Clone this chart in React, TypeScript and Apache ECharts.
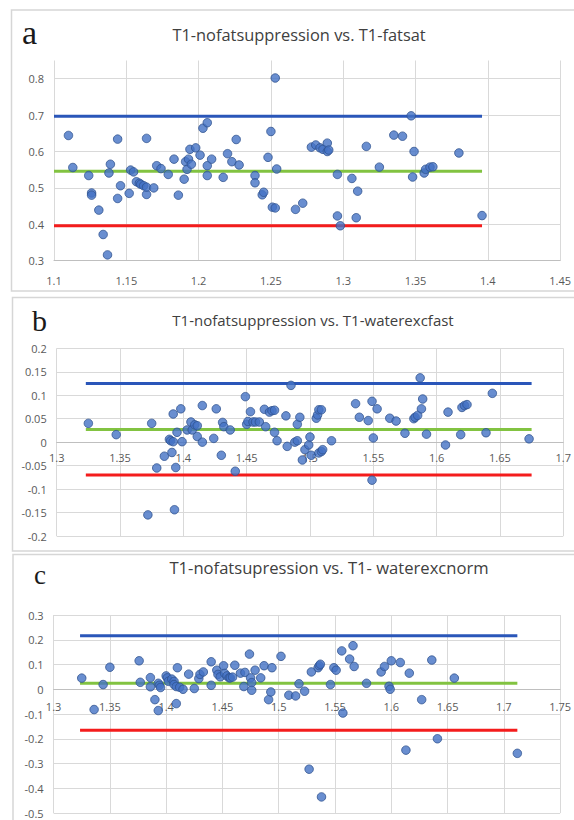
import React, { useEffect, useRef } from "react";
import * as echarts from "echarts";

// ---------- Panel a: T1-nofatsuppression vs. T1-fatsat ----------
const aX = [1.110,1.113,1.124,1.126,1.126,1.131,1.134,1.137,1.138,1.139,1.144,1.144,1.146,1.152,1.153,1.155,1.157,1.159,1.160,1.162,1.164,1.164,1.164,1.169,1.171,1.174,1.179,1.183,1.186,1.190,1.191,1.193,1.192,1.195,1.194,1.198,1.201,1.203,1.206,1.206,1.206,1.209,1.217,1.220,1.223,1.226,1.228,1.239,1.239,1.244,1.245,1.248,1.250,1.251,1.253,1.253,1.254,1.267,1.272,1.278,1.281,1.284,1.286,1.289,1.289,1.290,1.296,1.296,1.298,1.306,1.310,1.309,1.316,1.325,1.335,1.341,1.347,1.349,1.348,1.356,1.357,1.360,1.362,1.380,1.396];
const aY = [0.644,0.556,0.534,0.486,0.480,0.439,0.372,0.316,0.541,0.565,0.471,0.634,0.506,0.485,0.549,0.544,0.517,0.513,0.510,0.506,0.482,0.502,0.636,0.500,0.561,0.553,0.537,0.579,0.480,0.524,0.572,0.579,0.551,0.565,0.606,0.610,0.590,0.664,0.679,0.561,0.534,0.579,0.529,0.594,0.572,0.633,0.563,0.534,0.514,0.481,0.488,0.584,0.655,0.447,0.445,0.802,0.552,0.441,0.458,0.612,0.618,0.610,0.606,0.623,0.600,0.604,0.537,0.423,0.396,0.526,0.491,0.418,0.614,0.557,0.645,0.642,0.698,0.600,0.530,0.541,0.551,0.557,0.558,0.596,0.424];
const aLimits = [0.697, 0.546, 0.396]; // upper, mean, lower
const aRange = [1.1, 1.396];

// ---------- Panel b: T1-nofatsuppression vs. T1-waterexcfast ----------
const bX = [1.325,1.347,1.372,1.375,1.379,1.385,1.389,1.390,1.392,1.391,1.392,1.393,1.394,1.395,1.398,1.399,1.403,1.406,1.407,1.409,1.411,1.411,1.415,1.415,1.424,1.426,1.430,1.431,1.432,1.437,1.441,1.449,1.450,1.451,1.453,1.455,1.457,1.460,1.464,1.465,1.468,1.470,1.472,1.472,1.474,1.481,1.482,1.485,1.488,1.490,1.490,1.492,1.494,1.496,1.499,1.500,1.501,1.505,1.506,1.507,1.509,1.507,1.509,1.510,1.517,1.536,1.539,1.546,1.549,1.549,1.550,1.553,1.563,1.568,1.575,1.582,1.583,1.585,1.587,1.588,1.589,1.592,1.607,1.609,1.619,1.620,1.622,1.624,1.639,1.644,1.673];
const bY = [0.040,0.016,-0.155,0.040,-0.055,-0.030,0.006,0.003,0.001,-0.022,0.060,-0.144,-0.054,0.021,0.071,0.001,0.026,0.043,0.026,0.037,0.035,0.012,0.078,0.000,0.008,0.071,-0.028,0.042,0.033,0.026,-0.062,0.097,0.038,0.044,0.065,0.043,0.043,0.043,0.070,0.033,0.064,0.067,0.068,0.021,0.003,0.056,-0.009,0.121,0.000,0.003,0.038,0.053,-0.038,-0.016,-0.006,0.011,-0.028,0.051,0.058,0.069,0.069,-0.023,-0.020,-0.016,0.003,0.082,0.053,0.046,-0.081,0.087,0.009,0.071,0.051,0.045,0.019,0.050,0.053,0.057,0.137,0.071,0.092,0.017,-0.006,0.064,0.016,0.074,0.078,0.080,0.020,0.104,0.007];
const bLimits = [0.125, 0.027, -0.070];
const bRange = [1.323, 1.675];

// ---------- Panel c: T1-nofatsupression vs. T1- waterexcnorm ----------
const cX = [1.325,1.336,1.344,1.350,1.376,1.377,1.386,1.386,1.390,1.393,1.393,1.394,1.395,1.400,1.401,1.402,1.405,1.407,1.407,1.409,1.410,1.409,1.412,1.415,1.420,1.425,1.429,1.430,1.433,1.440,1.440,1.445,1.446,1.448,1.451,1.452,1.454,1.456,1.457,1.459,1.461,1.466,1.469,1.470,1.474,1.475,1.476,1.476,1.479,1.484,1.487,1.491,1.493,1.494,1.502,1.509,1.515,1.518,1.523,1.527,1.529,1.535,1.536,1.537,1.538,1.546,1.549,1.551,1.556,1.557,1.563,1.566,1.567,1.578,1.591,1.594,1.598,1.599,1.600,1.608,1.613,1.616,1.627,1.636,1.641,1.656,1.712];
const cY = [0.045,-0.082,0.019,0.089,0.115,0.028,0.047,0.010,-0.042,-0.086,0.024,0.016,0.007,0.054,0.046,0.032,0.041,0.032,0.019,-0.058,0.087,0.011,0.008,0.000,0.061,0.003,0.043,0.060,0.070,0.016,0.111,0.077,0.060,0.050,0.095,0.064,0.054,0.046,0.046,0.049,0.097,0.065,0.011,0.068,0.142,0.046,0.027,-0.004,0.077,0.046,0.095,-0.042,-0.011,0.087,0.133,-0.024,-0.027,0.022,-0.008,-0.323,0.070,0.087,0.095,0.101,-0.435,0.019,0.087,0.077,0.155,-0.096,0.122,0.176,0.092,0.024,0.070,0.092,0.012,0.000,0.115,0.108,-0.246,0.065,-0.042,0.118,-0.200,0.045,-0.259];
const cLimits = [0.216, 0.024, -0.166];
const cRange = [1.3235, 1.712];

const titles = [
  "T1-nofatsuppression vs. T1-fatsat",
  "T1-nofatsuppression vs. T1-waterexcfast",
  "T1-nofatsupression vs. T1- waterexcnorm",
];
const panelLetters = ["a", "b", "c"];

const LINE_COLORS = ["#2a56b9", "#82c341", "#f41c1c"];
const GRID_COLOR = "#d9d9d9";
const AXIS_COLOR = "#bfbfbf";
const LABEL_COLOR = "#595959";
const FONT = "'Open Sans', 'Noto Sans', sans-serif";

const fmt = (v: number) => String(Math.round(v * 100) / 100);

function pairs(xs: number[], ys: number[]) {
  return xs.map((x, i) => [x, ys[i]]);
}

export default function App() {
  const ref = useRef<HTMLDivElement>(null);

  useEffect(() => {
    if (!ref.current) return;
    const chart = echarts.init(ref.current, undefined, { renderer: "svg" });

    const grids = [
      { left: 54, top: 60.5, width: 507.7, height: 200.2 },
      { left: 56.7, top: 348.3, width: 509.3, height: 187.7 },
      { left: 53.6, top: 615, width: 507.4, height: 198 },
    ];
    const xDefs = [
      { min: 1.1, max: 1.45, interval: 0.05 },
      { min: 1.3, max: 1.7, interval: 0.05 },
      { min: 1.3, max: 1.75, interval: 0.05 },
    ];
    const yDefs = [
      { min: 0.3, max: 0.85, interval: 0.1 },
      { min: -0.2, max: 0.2, interval: 0.05 },
      { min: -0.5, max: 0.3, interval: 0.1 },
    ];
    const xLabelMargins = [14, 10, 12];
    const datasets = [
      { pts: pairs(aX, aY), lim: aLimits, rng: aRange },
      { pts: pairs(bX, bY), lim: bLimits, rng: bRange },
      { pts: pairs(cX, cY), lim: cLimits, rng: cRange },
    ];

    const axisLabel = { color: LABEL_COLOR, fontSize: 11, fontFamily: FONT, formatter: fmt };

    // x axis crosses at y = 0 when the y range includes zero (Excel style)
    const zeroOffset = (i: number) => {
      const d = yDefs[i];
      if (d.min >= 0 || d.max <= 0) return 0;
      return -grids[i].height * ((0 - d.min) / (d.max - d.min));
    };

    const xAxis = xDefs.map((d, i) => ({
      type: "value",
      gridIndex: i,
      position: "bottom",
      offset: zeroOffset(i),
      min: d.min,
      max: d.max,
      interval: d.interval,
      axisLine: { show: true, onZero: false, lineStyle: { color: AXIS_COLOR, width: 1 } },
      axisTick: { show: false },
      axisLabel: { ...axisLabel, margin: xLabelMargins[i] },
      splitLine: { show: true, lineStyle: { color: GRID_COLOR, width: 1 } },
    }));
    const yAxis = yDefs.map((d, i) => ({
      type: "value",
      gridIndex: i,
      min: d.min,
      max: d.max,
      interval: d.interval,
      axisLine: { show: false, onZero: false },
      axisTick: { show: false },
      axisLabel: { ...axisLabel, margin: 10, showMaxLabel: i !== 0 },
      splitLine: { show: true, showMaxLine: i !== 0, lineStyle: { color: GRID_COLOR, width: 1 } },
    }));

    const series: any[] = [];
    datasets.forEach((ds, i) => {
      ds.lim.forEach((v, k) => {
        series.push({
          type: "line",
          xAxisIndex: i,
          yAxisIndex: i,
          data: [
            [ds.rng[0], v],
            [ds.rng[1], v],
          ],
          showSymbol: false,
          symbol: "none",
          lineStyle: { color: LINE_COLORS[k], width: 3 },
          z: 2,
          silent: true,
        });
      });
      series.push({
        type: "scatter",
        xAxisIndex: i,
        yAxisIndex: i,
        data: ds.pts,
        symbol: "circle",
        symbolSize: 8.5,
        itemStyle: { color: "#4472c4", borderColor: "#2f528f", borderWidth: 1 },
        z: 3,
      });
    });

    const boxes = [
      { x: 11.5, y: 10, h: 281 },
      { x: 12.5, y: 297.5, h: 253.5 },
      { x: 13, y: 554.5, h: 300 },
    ];
    const titlePos = [
      { x: 299, y: 34, size: 16.4 },
      { x: 313, y: 320, size: 15 },
      { x: 329, y: 567, size: 16.6 },
    ];
    const letterPos = [
      { x: 22, y: 32, size: 34 },
      { x: 32, y: 320, size: 30 },
      { x: 34, y: 575, size: 27 },
    ];

    const graphic: any[] = [];
    boxes.forEach((b) => {
      graphic.push({
        type: "rect",
        shape: { x: b.x, y: b.y, width: 600, height: b.h },
        style: { fill: "none", stroke: "#d6d6d6", lineWidth: 1.5 },
        silent: true,
        z: -1,
      });
    });
    titles.forEach((t, i) => {
      graphic.push({
        type: "text",
        x: titlePos[i].x,
        y: titlePos[i].y,
        style: {
          text: t,
          fill: "#404040",
          font: `${titlePos[i].size}px ${FONT}`,
          align: "center",
          verticalAlign: "middle",
        },
      });
      graphic.push({
        type: "text",
        x: letterPos[i].x,
        y: letterPos[i].y,
        style: {
          text: panelLetters[i],
          fill: "#1a1a1a",
          font: `${letterPos[i].size}px 'Liberation Serif', 'DejaVu Serif', serif`,
          align: "left",
          verticalAlign: "middle",
        },
      });
    });

    chart.setOption({
      animation: false,
      backgroundColor: "#ffffff",
      grid: grids,
      xAxis,
      yAxis,
      series,
      graphic,
    });

    return () => chart.dispose();
  }, []);

  return (
    <div
      ref={ref}
      style={{ position: "absolute", left: 0, top: 0, width: 574, height: 820, background: "#fff" }}
    />
  );
}
